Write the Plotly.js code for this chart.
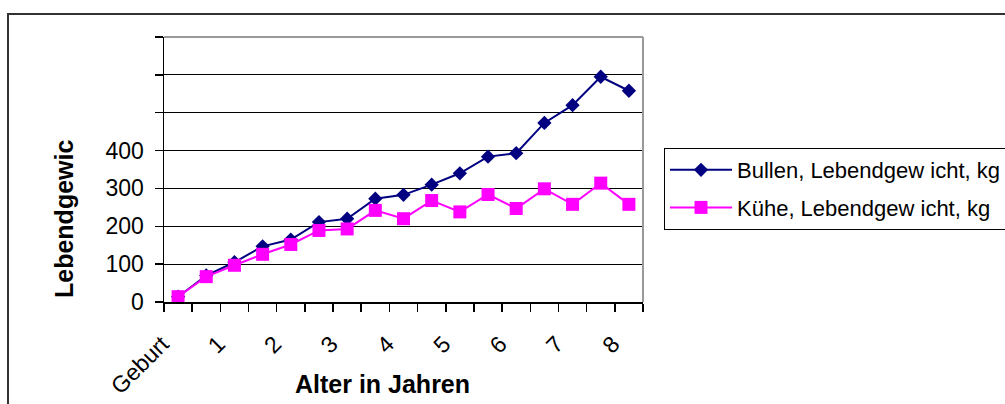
<!DOCTYPE html>
<html>
<head>
<meta charset="utf-8">
<script src="https://cdn.plot.ly/plotly-3.0.1.min.js"></script>
<style>
  html, body { margin: 0; padding: 0; background: #fff; }
  #wrap { position: relative; width: 1005px; height: 404px; overflow: hidden; }
  #chart { position: absolute; left: 0; top: 0; width: 1005px; height: 404px; }
  #frame { position: absolute; left: 7px; top: 13px; width: 1010px; height: 400px;
           border-top: 2px solid #333; border-left: 2px solid #333; pointer-events: none; }
</style>
</head>
<body>
<div id="wrap">
  <div id="chart"></div>
  <div id="frame"></div>
</div>
<script>
// Alter in Jahren (Geburt = 0, halbjährlich bis 8 Jahre)
const ages = [0, 0.5, 1, 1.5, 2, 2.5, 3, 3.5, 4, 4.5, 5, 5.5, 6, 6.5, 7, 7.5, 8];
const bullen = [14, 70, 105, 147, 165, 211, 220, 273, 283, 310, 340, 384, 393, 473, 520, 595, 558];
const kuehe  = [14, 67, 97, 126, 152, 189, 193, 242, 220, 268, 238, 284, 247, 299, 258, 314, 258];
const xTickVals = [0, 1, 2, 3, 4, 5, 6, 7, 8];
const xTickText = ["Geburt", "1", "2", "3", "4", "5", "6", "7", "8"];
const yTickVals = [0, 100, 200, 300, 400, 500, 600, 700];
const yTickText = ["0", "100", "200", "300", "400", "", "", ""];
const seriesNames = ["Bullen, Lebendgew icht, kg", "Kühe, Lebendgew icht, kg"];

const FONT = "Liberation Sans, Arial, sans-serif";

const traces = [
  {
    x: ages, y: bullen, name: seriesNames[0], type: "scatter", mode: "lines+markers",
    legendgroup: "a",
    line: { color: "#000080", width: 2 },
    marker: { symbol: "diamond", size: 11, color: "#000080" }
  },
  {
    x: ages, y: kuehe, name: seriesNames[1], type: "scatter", mode: "lines+markers",
    legendgroup: "b",
    line: { color: "#FF00FF", width: 2 },
    marker: { symbol: "square", size: 13, color: "#FF00FF" }
  }
];

const layout = {
  width: 1005, height: 404,
  margin: { l: 164, r: 362, t: 37, b: 102, pad: 0, autoexpand: false },
  paper_bgcolor: "#fff", plot_bgcolor: "#fff",
  font: { family: FONT, size: 22, color: "#000" },
  showlegend: true,
  legend: {
    xref: "container", yref: "container",
    x: 664 / 1005, y: 1 - 148 / 404, xanchor: "left", yanchor: "top",
    bgcolor: "#fff", bordercolor: "#000", borderwidth: 1,
    font: { family: FONT, size: 22, color: "#000" },
    traceorder: "grouped", tracegroupgap: 6,
    itemwidth: 62
  },
  xaxis: {
    type: "linear", range: [-0.25, 8.25],
    tickmode: "array", tickvals: xTickVals, ticktext: xTickText,
    tickangle: -45, ticks: "",
    ticklabelstandoff: 18, ticklabelshift: -16,
    tickfont: { family: FONT, size: 23, color: "#000" },
    showgrid: false, zeroline: false,
    showline: true, linecolor: "#000", linewidth: 1.5,
    minor: { ticks: "outside", tick0: -0.25, dtick: 0.5, ticklen: 8, tickcolor: "#000", tickwidth: 1.5, showgrid: false },
    fixedrange: true
  },
  yaxis: {
    range: [0, 700],
    tickmode: "array", tickvals: yTickVals, ticktext: yTickText,
    ticks: "outside", ticklen: 8, tickcolor: "#000", tickwidth: 1.5,
    ticklabelstandoff: 6,
    tickfont: { family: FONT, size: 23, color: "#000" },
    showgrid: true, gridcolor: "#000", gridwidth: 1,
    zeroline: false,
    showline: true, linecolor: "#000", linewidth: 1.5,
    fixedrange: true
  },
  shapes: [
    { type: "line", xref: "paper", yref: "paper", x0: 0, x1: 1, y0: 1, y1: 1, line: { color: "#999", width: 2 } },
    { type: "line", xref: "paper", yref: "paper", x0: 1, x1: 1, y0: 0, y1: 1, line: { color: "#999", width: 2 } }
  ],
  annotations: [
    { text: "<b>Lebendgewic</b>", xref: "paper", yref: "paper", x: (64 - 164) / 479, y: (302 - 219) / 265,
      xanchor: "center", yanchor: "middle", textangle: -90, showarrow: false,
      font: { family: FONT, size: 25, color: "#000" } },
    { text: "<b>Alter in Jahren</b>", xref: "paper", yref: "paper", x: (382 - 164) / 479, y: (302 - 384) / 265,
      xanchor: "center", yanchor: "middle", showarrow: false,
      font: { family: FONT, size: 25, color: "#000" } }
  ]
};

Plotly.newPlot("chart", traces, layout, { staticPlot: true, displayModeBar: false });
</script>
</body>
</html>
